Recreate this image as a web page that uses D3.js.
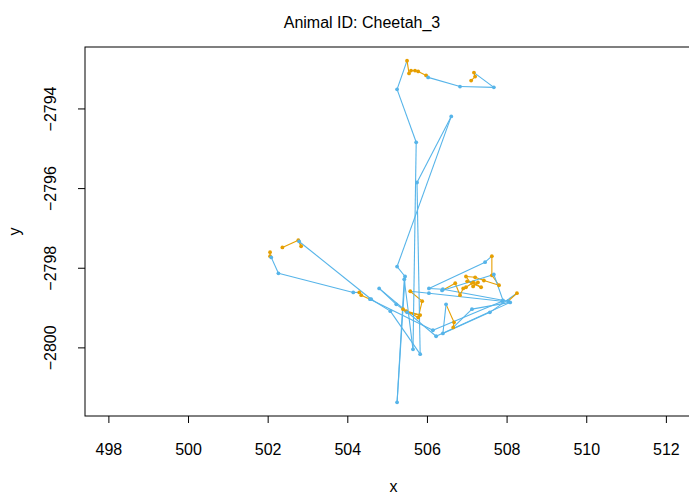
<!DOCTYPE html>
<html>
<head>
<meta charset="utf-8">
<script src="https://cdn.jsdelivr.net/npm/d3@7/dist/d3.min.js"></script>
<style>
  body { margin: 0; background: #ffffff; }
  text { font-family: "Liberation Sans", Arial, sans-serif; fill: #000; }
</style>
</head>
<body>
<script>
// Track of one animal: relocations in time order, with decoded behavioural state.
// A null marks a missing fix (the track is broken there).
const chartTitle = "Animal ID: Cheetah_3";
const xLabel = "x";
const yLabel = "y";
const xTickValues = [498, 500, 502, 504, 506, 508, 510, 512];
const yTickValues = [-2800, -2798, -2796, -2794];
const stateColors = { 1: "#56B4E9", 2: "#E69F00" };

const xs = [
  502.06, 502.06, 502.09, 502.27, 504.15, 504.30, 504.35, 504.57, 506.15, 507.89,
  506.05, 505.58, 505.88, 505.78, 505.40, 505.48, 505.83, 505.50, 505.23, 504.80,
  506.23, 508.09, 507.13, 506.66, 506.68, 506.48, 506.40, 507.58, 508.26, 508.04,
  506.40, 506.05, 507.46,
  507.63, 507.63, 507.81, 507.43, 507.21, 506.98, 507.16, 507.28, 507.01, 507.36,
  507.16, 506.98, 506.91, 506.83, 506.71,
  506.38, 507.68, 507.91,
  null,
  502.37, 502.77, 502.84, 502.79, 504.60, 505.08, 505.83, 505.75, 506.61, 505.25,
  505.45, 505.25, 505.43, 505.65, 505.73, 505.25, 505.50, 505.55, 505.60, 505.70,
  505.78, 505.98, 506.03, 506.83, 507.68, 507.18, 507.21, 507.11
];
const ys = [
  -2797.61, -2797.71, -2797.74, -2798.14, -2798.62, -2798.62, -2798.69, -2798.79, -2799.57, -2798.84,
  -2798.64, -2798.59, -2798.84, -2799.25, -2799.04, -2799.09, -2799.19, -2799.12, -2798.92, -2798.52,
  -2799.72, -2798.87, -2799.04, -2799.50, -2799.37, -2798.92, -2799.65, -2799.12, -2798.64, -2798.84,
  -2798.54, -2798.52, -2797.86,
  -2797.71, -2798.19, -2798.44, -2798.32, -2798.24, -2798.22, -2798.47, -2798.37, -2798.34, -2798.49,
  -2798.37, -2798.49, -2798.52, -2798.69, -2798.39,
  -2798.57, -2798.17, -2798.82,
  null,
  -2797.49, -2797.31, -2797.46, -2797.34, -2798.79, -2799.09, -2800.17, -2795.86, -2794.20, -2797.97,
  -2798.22, -2801.38, -2798.29, -2800.05, -2794.85, -2793.52, -2792.80, -2793.12, -2793.05, -2793.05,
  -2793.07, -2793.17, -2793.22, -2793.45, -2793.47, -2793.10, -2793.20, -2793.30
];
const states = [
  2, 2, 1, 1, 1, 2, 2, 1, 1, 1,
  1, 2, 2, 2, 2, 2, 2, 1, 1, 1,
  1, 1, 1, 2, 2, 1, 1, 1, 2, 1,
  1, 1, 1,
  2, 2, 2, 2, 2, 2, 2, 2, 2, 2,
  2, 2, 2, 2, 2,
  1, 1, 1,
  null,
  2, 2, 2, 1, 1, 1, 1, 1, 1, 1,
  1, 1, 1, 1, 1, 1, 2, 2, 2, 2,
  2, 2, 1, 1, 1, 2, 2, 2
];

const W = 689, H = 495;
const margin = { left: 85, top: 47, bottom: 79 };
const plotW = 617;                 // plot region runs past the right edge of the page
const plotH = H - margin.top - margin.bottom;

const fixes = xs.map((x, i) => ({ x, y: ys[i], s: states[i] }));
const valid = fixes.filter(d => d.x !== null);

// Axis limits: data range padded by 4%, then widened so that one unit is the same length on both axes
const xe = d3.extent(valid, d => d.x), ye = d3.extent(valid, d => d.y);
const xr = (xe[1] - xe[0]) * 1.08, yr = (ye[1] - ye[0]) * 1.08;
const k = Math.min(plotW / xr, plotH / yr);
const xc = (xe[0] + xe[1]) / 2, yc = (ye[0] + ye[1]) / 2;
const xHalf = plotW / k / 2, yHalf = plotH / k / 2;

const x = d3.scaleLinear().domain([xc - xHalf, xc + xHalf]).range([margin.left, margin.left + plotW]);
const y = d3.scaleLinear().domain([yc - yHalf, yc + yHalf]).range([margin.top + plotH, margin.top]);

const svg = d3.select("body").append("svg").attr("width", W).attr("height", H);

// Step segments, coloured by the state at the start of each step
const steps = [];
for (let i = 0; i < fixes.length - 1; i++) {
  const a = fixes[i], b = fixes[i + 1];
  if (a.x === null || b.x === null) continue;
  steps.push({ a, b });
}
svg.append("g").selectAll("line").data(steps).join("line")
  .attr("x1", d => x(d.a.x)).attr("y1", d => y(d.a.y))
  .attr("x2", d => x(d.b.x)).attr("y2", d => y(d.b.y))
  .attr("stroke", d => stateColors[d.a.s]).attr("stroke-width", 1.1);

svg.append("g").selectAll("circle").data(valid).join("circle")
  .attr("cx", d => x(d.x)).attr("cy", d => y(d.y)).attr("r", 1.9)
  .attr("fill", d => stateColors[d.s]);

// Frame
svg.append("rect")
  .attr("x", margin.left).attr("y", margin.top).attr("width", plotW).attr("height", plotH)
  .attr("fill", "none").attr("stroke", "#000").attr("stroke-width", 1);

// Bottom axis
const xAxis = svg.append("g").attr("transform", `translate(0,${margin.top + plotH})`)
  .call(d3.axisBottom(x).tickValues(xTickValues).tickSize(7).tickPadding(0).tickFormat(d3.format("d")));
xAxis.select(".domain").remove();
xAxis.selectAll("text").attr("font-size", 16).attr("dy", null).attr("y", 39);
xAxis.selectAll("line").attr("stroke", "#000");

// Left axis, labels parallel to the axis
const yAxis = svg.append("g").attr("transform", `translate(${margin.left},0)`)
  .call(d3.axisLeft(y).tickValues(yTickValues).tickSize(7).tickFormat(d3.format("d")));
yAxis.select(".domain").remove();
yAxis.selectAll("line").attr("stroke", "#000");
yAxis.selectAll("text")
  .attr("font-size", 16).attr("x", null).attr("dy", null).attr("text-anchor", "middle")
  .attr("transform", "translate(-29,0) rotate(-90)");

svg.append("text").attr("x", 362).attr("y", 28).attr("text-anchor", "middle")
  .attr("font-size", 16).text(chartTitle);
svg.append("text").attr("x", margin.left + plotW / 2).attr("y", 492).attr("text-anchor", "middle")
  .attr("font-size", 16).text(xLabel);
svg.append("text").attr("transform", `translate(20,${margin.top + plotH / 2}) rotate(-90)`)
  .attr("text-anchor", "middle").attr("font-size", 16).text(yLabel);
</script>
</body>
</html>
